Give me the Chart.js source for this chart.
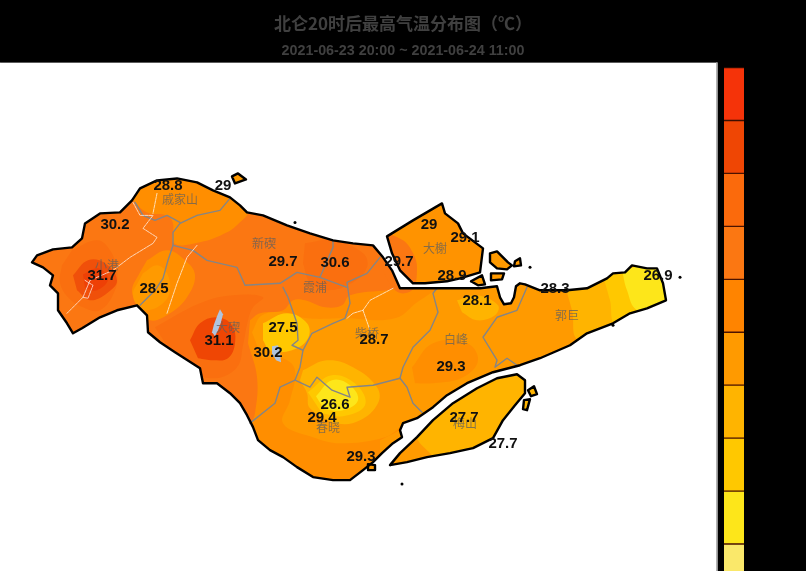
<!DOCTYPE html>
<html><head><meta charset="utf-8">
<style>html,body{margin:0;padding:0;background:#000;overflow:hidden}canvas{display:block}</style>
<script src="https://cdn.jsdelivr.net/npm/chart.js@4/dist/chart.umd.js"></script>
</head><body><canvas id="c" width="806" height="571"></canvas>
<script>
const titleText = "北仑20时后最高气温分布图（℃）";
const subtitleText = "2021-06-23 20:00 ~ 2021-06-24 11:00";

const stationValues = ["28.8","29","30.2","31.7","28.5","29.7","30.6","29.7","29","29.1","28.9","28.1","28.3","26.9","27.5","31.1","30.2","28.7","29.3","26.6","29.4","27.7","27.7","29.3"];
const stationX = [168,223,115,102,154,283,335,399,429,465,452,477,555,658,283,219,268,374,451,335,322,464,503,361];
const stationY = [185,185,224,276,289,262,263,262,224,237,276,301,289,276,328,341,353,340,367,405,418,418,444,457];
const townNames = ["戚家山","新碶","大榭","小港","霞浦","柴桥","白峰","郭巨","大碶","春晓","梅山"];
const townX = [180,264,435,107,315,367,456,567,228,328,465];
const townY = [199,243,248,265,287,333,339,315,327,427,423];

const colorbarColors = ["#f53309","#ef4604","#fb6a0c","#fb7712","#ff8400","#ff9a00","#ffb400","#ffc800","#fde61a","#fae86a"];
const colorbarEdges = [10,9,8,7,6,5,4,3,2,1,0];

const panel = [[0,62],[717,62],[717,571],[0,571]];
const panelEdge = [[0,61.5],[717,61.5],[717,571]];
const mainland = [[32,262],[37,255],[53,249],[72,247],[82,238],[85,223],[100,213],[120,212],[132,200],[140,188],[157,180],[177,178],[197,182],[213,190],[230,197],[240,205],[247,212],[263,215],[287,225],[310,233],[333,240],[353,243],[373,245],[383,257],[392,270],[400,288],[425,288],[480,288],[497,286],[500,297],[504,304],[511,303],[514,297],[516,286],[520,283],[525,284],[540,290],[567,290],[587,288],[607,278],[613,273],[625,272],[632,265],[647,268],[657,268],[663,283],[666,300],[647,308],[630,313],[613,323],[587,333],[570,345],[540,358],[520,365],[493,372],[467,383],[447,395],[433,407],[417,418],[403,423],[400,430],[402,437],[393,443],[382,453],[373,462],[363,470],[350,480],[333,480],[313,477],[297,467],[283,457],[270,450],[258,440],[253,427],[247,415],[240,403],[230,393],[217,383],[203,383],[200,368],[175,352],[160,342],[148,332],[147,315],[137,305],[117,310],[100,317],[82,328],[73,333],[67,323],[58,310],[58,293],[50,285],[53,275],[43,267]];
const daxie = [[387,236],[413,220],[442,203],[445,213],[458,223],[463,233],[483,248],[480,272],[460,278],[447,281],[425,283],[413,283],[400,270],[392,253]];
const meishan = [[390,465],[400,453],[417,437],[433,420],[453,403],[477,388],[497,378],[517,374],[525,380],[525,393],[515,405],[503,420],[493,438],[473,448],[450,453],[427,457],[407,462]];
const isletA = [[490,253],[497,251],[508,262],[512,265],[507,269],[497,268],[490,262]];
const isletB = [[491,273],[504,273],[502,279],[491,280]];
const isletC = [[471,281],[482,275],[485,284],[478,285]];
const isletD = [[515,261],[520,258],[521,265],[514,266]];
const isletE = [[232,176],[238,173],[246,179],[235,183]];
const isletF = [[368,464],[375,465],[375,470],[368,470]];
const isletG = [[528,390],[534,386],[537,394],[531,396]];
const isletH = [[524,400],[530,399],[527,410],[523,409]];
const dotX = [295,530,680,613,402];
const dotY = [222,267,277,325,484];

const zoneEast = [[250,320],[260,313],[283,310],[293,300],[305,300],[325,307],[342,305],[350,295],[397,288],[410,280],[700,250],[700,400],[420,520],[250,500],[240,430],[250,423],[255,413],[257,377],[248,343]];
const zoneTop = [[133,200],[147,212],[167,215],[173,223],[174,243],[200,242],[227,232],[242,220],[248,213],[260,180],[150,160],[125,190]];
const zoneWestOuter = [[72,250],[97,240],[110,250],[117,270],[115,290],[100,310],[83,307],[68,297],[60,282],[62,265]];
const zoneWestInner = [[73,275],[88,260],[105,263],[117,280],[107,293],[90,300],[77,290]];
const zoneWestCore = [[83,274],[98,268],[108,279],[97,290],[85,288]];
const zoneLobeOuter = [[147,260],[167,250],[185,260],[195,275],[187,297],[170,313],[150,320],[138,305],[132,290],[140,272]];
const zoneLobeInner = [[143,273],[157,265],[167,273],[170,290],[163,303],[147,310],[137,305],[133,293],[138,282]];
const zoneDakiOuter = [[155,327],[200,303],[233,295],[263,297],[253,307],[248,320],[243,345],[237,367],[215,378],[190,370],[170,350]];
const zoneDakiInner = [[190,340],[200,323],[217,317],[232,325],[235,343],[228,358],[213,360],[198,358]];
const zoneXiapu = [[305,243],[333,240],[363,253],[367,267],[353,282],[328,290],[310,282],[303,263]];
const zoneCentre = [[252,332],[262,315],[283,312],[307,318],[345,318],[395,318],[420,300],[450,285],[570,285],[600,330],[545,360],[470,390],[430,410],[403,425],[385,437],[340,443],[313,437],[283,423],[290,400],[295,370],[283,358],[262,358]];
const zoneBaifeng = [[412,367],[433,343],[467,343],[478,360],[463,377],[433,383],[415,383]];
const zoneNorthEast = [[457,300],[477,295],[498,305],[495,315],[477,320],[462,312]];
const zoneBand1 = [[565,285],[572,310],[580,340],[700,340],[700,250]];
const zoneBand2 = [[603,275],[610,300],[617,325],[700,340],[700,250]];
const zoneBand3 = [[622,270],[627,290],[637,310],[700,340],[700,250]];
const zoneLow1 = [[263,323],[287,313],[307,323],[308,338],[292,350],[270,350],[263,340]];
const zoneCold1 = [[303,370],[327,360],[353,367],[377,387],[378,403],[360,420],[337,423],[310,408],[307,393],[300,380]];
const zoneCold2 = [[308,392],[332,375],[357,385],[365,405],[343,416],[322,413]];
const zoneCold3 = [[316,396],[332,380],[350,385],[358,400],[343,410],[324,409]];
const zoneDaxieWest = [[380,230],[403,240],[413,253],[417,268],[412,290],[395,290],[375,250]];
const zoneMeishanWest = [[380,470],[433,465],[433,457],[417,437],[425,420],[380,440]];

const borderLines = [
 [[173,245],[173,232],[180,223],[197,215],[220,210],[230,198]],
 [[180,222],[167,215],[155,220],[143,215],[135,202]],
 [[173,245],[168,260],[163,278],[155,290],[140,305]],
 [[173,245],[193,250],[207,260],[237,267],[245,285],[280,283],[297,272],[320,277],[333,247],[333,240]],
 [[283,287],[288,297],[297,323],[298,340],[292,345],[303,350],[300,367],[295,380],[280,387],[275,403],[250,423]],
 [[295,380],[310,387],[317,377],[332,390],[350,397],[347,387],[373,385],[400,378],[407,387],[413,403],[422,412]],
 [[400,378],[403,367],[413,347],[430,330],[438,312],[433,293],[437,288]],
 [[303,350],[312,333],[333,323],[345,318],[350,303],[347,282],[367,273],[380,257]],
 [[320,277],[347,287]],
 [[527,287],[517,310],[497,317],[483,337],[497,360],[495,367],[507,358],[517,365]]
];
const riverLines = [
 [[133,202],[140,215],[153,215],[143,228],[157,237],[153,243],[130,257],[113,270],[90,280],[83,297],[67,313]],
 [[157,193],[153,213]],
 [[197,245],[187,257],[177,283],[167,313]],
 [[393,288],[370,300],[363,310],[353,313],[347,318]],
 [[363,310],[370,330]],
 [[85,280],[93,285],[88,298],[83,297]]
];
const lakeNorth = [[220,309],[223,314],[221,322],[218,330],[215,336],[212,332],[214,324],[217,316]];
const lakeSouth = [[272,346],[278,345],[280,352],[281,362],[276,360],[272,353]];

const pts = a => a.map(p => ({x:p[0],y:p[1]}));
const poly = (a,color,clip) => ({data:pts(a),showLine:true,fill:'shape',backgroundColor:color,borderWidth:0,pointRadius:0,tension:clip?0.4:0,clipToLand:!!clip});
const stroke = (a,color,w,dash) => ({data:pts(a),showLine:true,fill:false,borderColor:color,borderWidth:w,borderDash:dash||[],pointRadius:0,borderJoinStyle:'round',borderCapStyle:'round'});
const c = colorbarColors;
const softDark = "#fa6f0f";
const landParts = [mainland,daxie,meishan,isletA,isletB,isletC,isletD,isletE,isletF,isletG,isletH];

const datasets = [
 poly(panel,"#ffffff"),
 stroke(panelEdge,"#a8a8a8",1),
 poly(mainland,c[3]),
 poly(zoneEast,"#ff8e00",1), poly(zoneTop,"#ff8e00",1),
 poly(zoneDakiOuter,softDark,1), poly(zoneDakiInner,c[1],1),
 poly(zoneWestOuter,softDark,1), poly(zoneWestInner,"#f0500a",1), poly(zoneWestCore,"#ee4006",1),
 poly(zoneLobeOuter,"#ff8e00",1), poly(zoneLobeInner,c[5],1),
 poly(zoneXiapu,softDark,1),
 poly(zoneCentre,c[5],1), poly(zoneBaifeng,"#ff8e00",1), poly(zoneNorthEast,c[6],1),
 poly(zoneBand1,c[6],1), poly(zoneBand2,c[7],1), poly(zoneBand3,c[8],1),
 poly(zoneLow1,c[7],1),
 poly(zoneCold1,c[6],1), poly(zoneCold2,c[7],1), poly(zoneCold3,c[8],1),
 poly(daxie,"#ff9300"), poly(meishan,c[6]),
 poly(isletA,"#ff9a00"),poly(isletB,"#ff9a00"),poly(isletC,"#ff9a00"),poly(isletD,"#ff9a00"),poly(isletE,"#ff9a00"),poly(isletF,"#ff9a00"),poly(isletG,"#ffb400"),poly(isletH,"#ffb400"),
 poly(zoneDaxieWest,c[3],1), poly(zoneMeishanWest,c[5],1),
 ...borderLines.map(l=>stroke(l,"#858585",1.4)),
 ...riverLines.map(l=>stroke(l,"rgba(255,255,255,0.7)",1,[3,1])),
 poly(lakeNorth,"#b0c4de"), poly(lakeSouth,"#b0c4de"),
 ...landParts.map(l=>stroke([...l,l[0]],"#000000",2.4)),
 {data:dotX.map((x,i)=>({x,y:dotY[i]})),showLine:false,pointRadius:1.5,pointBackgroundColor:"#000",pointBorderWidth:0},
 {type:'bar',yAxisID:'yBar',data:colorbarColors.map((col,i)=>({x:734,y:[colorbarEdges[i+1],colorbarEdges[i]]})),backgroundColor:colorbarColors,borderColor:"#4a1200",borderWidth:{top:1,bottom:1,left:0,right:0},borderSkipped:false,barThickness:20}
];
datasets.forEach((d,i)=>{d.order=-i;});

const landClip = {
 id:'landClip',
 beforeDatasetDraw(chart,args){
  if(!chart.data.datasets[args.index].clipToLand) return;
  const X=chart.scales.x,Y=chart.scales.y,ctx=chart.ctx;
  ctx.save();ctx.beginPath();
  landParts.forEach(part=>{part.forEach((p,i)=>{const px=X.getPixelForValue(p[0]),py=Y.getPixelForValue(p[1]);i?ctx.lineTo(px,py):ctx.moveTo(px,py);});ctx.closePath();});
  ctx.clip();
 },
 afterDatasetDraw(chart,args){ if(chart.data.datasets[args.index].clipToLand) chart.ctx.restore(); }
};
const labelText = {
 id:'labelText',
 afterDatasetsDraw(chart){
  const X=chart.scales.x,Y=chart.scales.y,ctx=chart.ctx;
  ctx.save();ctx.textAlign='center';ctx.textBaseline='middle';
  ctx.font='12px "Noto Sans CJK SC"';ctx.fillStyle='rgba(95,95,95,0.75)';
  townNames.forEach((t,i)=>ctx.fillText(t,X.getPixelForValue(townX[i]),Y.getPixelForValue(townY[i])));
  ctx.font='bold 15px "Liberation Sans"';ctx.fillStyle='#111';
  stationValues.forEach((t,i)=>ctx.fillText(t,X.getPixelForValue(stationX[i]),Y.getPixelForValue(stationY[i])));
  ctx.restore();
 }
};
const Filler = Chart.Filler || Chart.registry.plugins.get('filler');
Chart.unregister(Filler);
Chart.register(landClip,labelText,Filler);

new Chart(document.getElementById('c'),{
 type:'scatter',
 data:{datasets},
 options:{
  responsive:false,animation:false,
  layout:{padding:0,autoPadding:false},
  plugins:{
   legend:{display:false},tooltip:{enabled:false},
   title:{display:true,text:titleText,color:"#404040",font:{size:17,weight:'bold',family:'"Noto Sans CJK SC"'},padding:{top:13,bottom:9}},
   subtitle:{display:true,text:subtitleText,color:"#404040",font:{size:14.3,family:'"Liberation Sans"',weight:'bold'},padding:{top:0,bottom:3}}
  },
  scales:{
   x:{type:'linear',min:0,max:806,display:false,offset:false},
   y:{type:'linear',reverse:true,min:62,max:571,display:false},
   yBar:{type:'linear',min:0.49,max:10.094,display:false}
  }
 }
});
</script></body></html>
